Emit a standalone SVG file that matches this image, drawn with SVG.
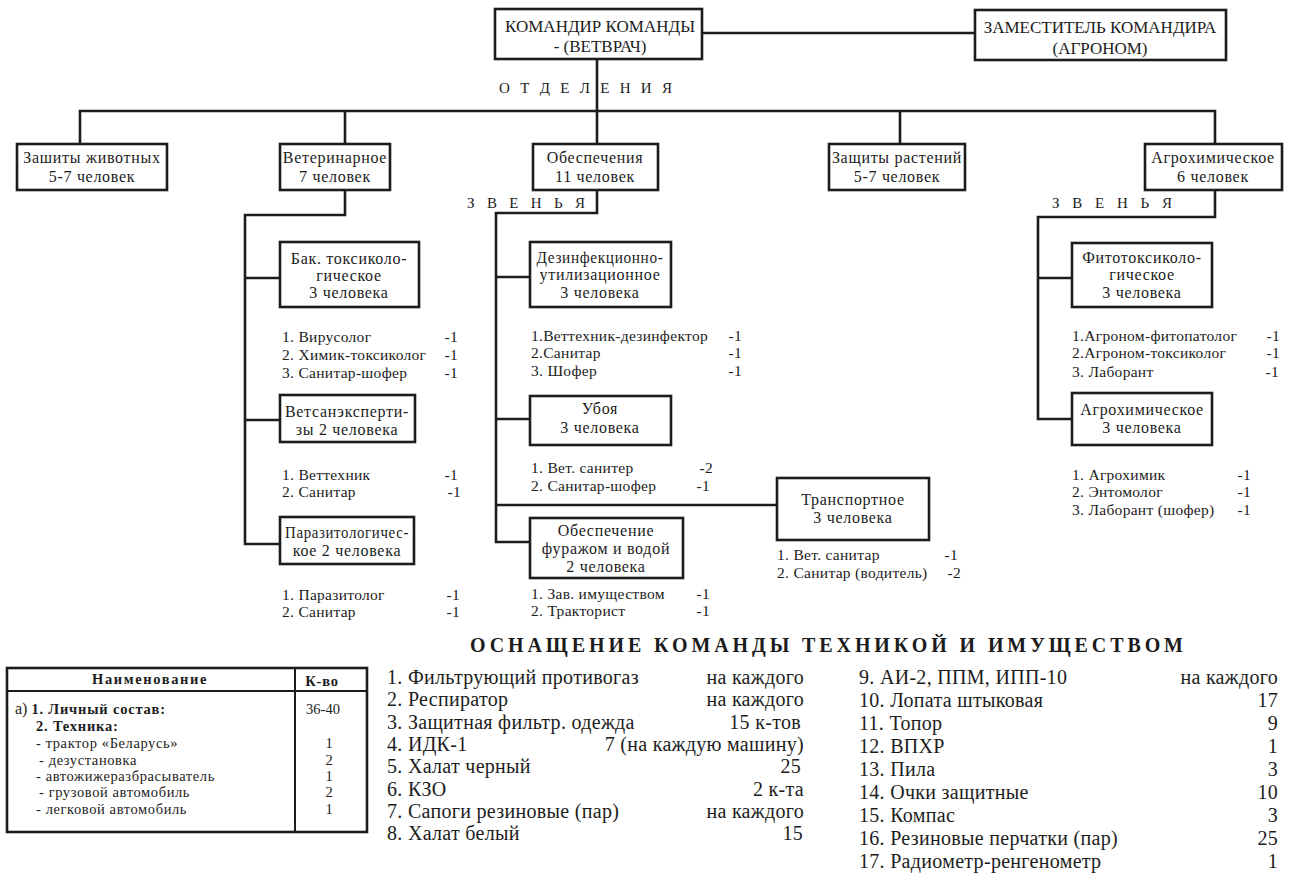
<svg xmlns="http://www.w3.org/2000/svg" width="1293" height="884" viewBox="0 0 1293 884" font-family="'Liberation Serif', serif">
<style>
.bx{fill:#fff;stroke:#1c1c1c;stroke-width:2.6}
.cn{fill:none;stroke:#1c1c1c;stroke-width:2.6}
text{font-family:'Liberation Serif','Times New Roman',serif;fill:#1c1c1c}
.h{font-size:17px;text-anchor:middle}
.n{font-size:16px;text-anchor:middle;letter-spacing:0.7px}
.li{font-size:15.5px;letter-spacing:0.3px}
.sp{font-size:15px}
.ttl{font-size:20px;font-weight:bold}
.eq{font-size:20px;letter-spacing:0.3px}
.end{text-anchor:end}
.mid{text-anchor:middle}
.tb{font-size:14.5px}
.tbb{font-size:14.5px;font-weight:bold}
</style>
<rect width="1293" height="884" fill="#fff"/>

<g id="connectors" class="cn">
<path d="M702 33H975"/>
<path d="M597 59V144"/>
<path d="M80 144V111H1215V144"/>
<path d="M345 111V144"/>
<path d="M900 111V144"/>
<path d="M345 190V215H245V544H280"/>
<path d="M245 278H280"/>
<path d="M245 420H280"/>
<path d="M597 190V213H496V542H530"/>
<path d="M496 277H530"/>
<path d="M496 419H530"/>
<path d="M496 505H777"/>
<path d="M1215 190V217H1038V419H1072"/>
<path d="M1038 278H1072"/>
</g>

<g id="n-commander">
<rect class="bx" x="495" y="9" width="207" height="50"/>
<text class="h" x="600" y="32" textLength="190" lengthAdjust="spacing">КОМАНДИР КОМАНДЫ</text>
<text class="h" x="600" y="52">- (ВЕТВРАЧ)</text>
</g>
<g id="n-deputy">
<rect class="bx" x="975" y="10" width="251" height="50"/>
<text class="h" x="1100" y="33">ЗАМЕСТИТЕЛЬ КОМАНДИРА</text>
<text class="h" x="1100" y="54">(АГРОНОМ)</text>
</g>
<text class="sp" x="499" y="93" textLength="173" lengthAdjust="spacing">О Т Д Е Л Е Н И Я</text>

<g id="n-zashity-zhivotnyh">
<rect class="bx" x="17" y="144" width="150" height="46"/>
<text class="n" x="92" y="163">Зашиты животных</text>
<text class="n" x="92" y="182">5-7 человек</text>
</g>
<g id="n-veterinarnoe">
<rect class="bx" x="280" y="144" width="110" height="46"/>
<text class="n" x="335" y="163">Ветеринарное</text>
<text class="n" x="335" y="182">7 человек</text>
</g>
<g id="n-obespecheniya">
<rect class="bx" x="533" y="144" width="125" height="46"/>
<text class="n" x="595" y="163">Обеспечения</text>
<text class="n" x="595" y="182">11 человек</text>
</g>
<g id="n-zashity-rasteniy">
<rect class="bx" x="829" y="144" width="136" height="46"/>
<text class="n" x="897" y="163">Защиты растений</text>
<text class="n" x="897" y="182">5-7 человек</text>
</g>
<g id="n-agrohim">
<rect class="bx" x="1145" y="144" width="137" height="46"/>
<text class="n" x="1213" y="163">Агрохимическое</text>
<text class="n" x="1213" y="182">6 человек</text>
</g>

<text class="sp" x="467" y="208" textLength="118" lengthAdjust="spacing">З В Е Н Ь Я</text>
<text class="sp" x="1052" y="208" textLength="120" lengthAdjust="spacing">З В Е Н Ь Я</text>

<g id="n-bak">
<rect class="bx" x="280" y="242" width="139" height="65"/>
<text class="n" x="349" y="264">Бак. токсиколо-</text>
<text class="n" x="349" y="281">гическое</text>
<text class="n" x="349" y="298">3 человека</text>
<text class="li" x="282" y="342">1. Вирусолог</text><text class="li end" x="458" y="342">-1</text>
<text class="li" x="282" y="360">2. Химик-токсиколог</text><text class="li end" x="458" y="360">-1</text>
<text class="li" x="282" y="378">3. Санитар-шофер</text><text class="li end" x="458" y="378">-1</text>
</g>
<g id="n-vetsan">
<rect class="bx" x="280" y="395" width="135" height="47"/>
<text class="n" x="347" y="417">Ветсанэксперти-</text>
<text class="n" x="347" y="435">зы 2 человека</text>
<text class="li" x="282" y="480">1. Веттехник</text><text class="li end" x="458" y="480">-1</text>
<text class="li" x="282" y="497">2. Санитар</text><text class="li end" x="461" y="497">-1</text>
</g>
<g id="n-parazit">
<rect class="bx" x="280" y="517" width="134" height="47"/>
<text class="n" x="347" y="538" textLength="124" lengthAdjust="spacingAndGlyphs">Паразитологичес-</text>
<text class="n" x="347" y="556">кое 2 человека</text>
<text class="li" x="282" y="600">1. Паразитолог</text><text class="li end" x="460" y="600">-1</text>
<text class="li" x="282" y="617">2. Санитар</text><text class="li end" x="460" y="617">-1</text>
</g>

<g id="n-dezinf">
<rect class="bx" x="530" y="242" width="141" height="65"/>
<text class="n" x="600" y="263" textLength="127" lengthAdjust="spacingAndGlyphs">Дезинфекционно-</text>
<text class="n" x="600" y="280">утилизационное</text>
<text class="n" x="600" y="298">3 человека</text>
<text class="li" x="531" y="341">1.Веттехник-дезинфектор</text><text class="li end" x="742" y="341">-1</text>
<text class="li" x="531" y="358">2.Санитар</text><text class="li end" x="742" y="358">-1</text>
<text class="li" x="531" y="376">3. Шофер</text><text class="li end" x="742" y="376">-1</text>
</g>
<g id="n-uboya">
<rect class="bx" x="530" y="396" width="141" height="49"/>
<text class="n" x="600" y="414">Убоя</text>
<text class="n" x="600" y="433">3 человека</text>
<text class="li" x="531" y="473">1. Вет. санитер</text><text class="li end" x="713" y="473">-2</text>
<text class="li" x="531" y="491">2. Санитар-шофер</text><text class="li end" x="710" y="491">-1</text>
</g>
<g id="n-transport">
<rect class="bx" x="777" y="478" width="152" height="62"/>
<text class="n" x="853" y="505">Транспортное</text>
<text class="n" x="853" y="523">3 человека</text>
<text class="li" x="777" y="560">1. Вет. санитар</text><text class="li end" x="958" y="560">-1</text>
<text class="li" x="777" y="578">2. Санитар (водитель)</text><text class="li end" x="961" y="578">-2</text>
</g>
<g id="n-furazh">
<rect class="bx" x="530" y="518" width="153" height="60"/>
<text class="n" x="606" y="536">Обеспечение</text>
<text class="n" x="606" y="554">фуражом и водой</text>
<text class="n" x="606" y="572">2 человека</text>
<text class="li" x="531" y="599">1. Зав. имуществом</text><text class="li end" x="710" y="599">-1</text>
<text class="li" x="531" y="616">2. Тракторист</text><text class="li end" x="710" y="616">-1</text>
</g>

<g id="n-fito">
<rect class="bx" x="1072" y="243" width="140" height="64"/>
<text class="n" x="1142" y="263">Фитотоксиколо-</text>
<text class="n" x="1142" y="280">гическое</text>
<text class="n" x="1142" y="298">3 человека</text>
<text class="li" x="1072" y="341">1.Агроном-фитопатолог</text><text class="li end" x="1280" y="341">-1</text>
<text class="li" x="1072" y="358">2.Агроном-токсиколог</text><text class="li end" x="1280" y="358">-1</text>
<text class="li" x="1072" y="377">3. Лаборант</text><text class="li end" x="1279" y="377">-1</text>
</g>
<g id="n-agrohim-zveno">
<rect class="bx" x="1072" y="393" width="140" height="52"/>
<text class="n" x="1142" y="415">Агрохимическое</text>
<text class="n" x="1142" y="433">3 человека</text>
<text class="li" x="1072" y="480">1. Агрохимик</text><text class="li end" x="1251" y="480">-1</text>
<text class="li" x="1072" y="497">2. Энтомолог</text><text class="li end" x="1251" y="497">-1</text>
<text class="li" x="1072" y="515">3. Лаборант (шофер)</text><text class="li end" x="1251" y="515">-1</text>
</g>

<text class="ttl" x="470" y="652" textLength="713" lengthAdjust="spacing">ОСНАЩЕНИЕ КОМАНДЫ ТЕХНИКОЙ И ИМУЩЕСТВОМ</text>

<g id="table">
<rect x="7" y="668" width="360" height="164" fill="none" stroke="#1c1c1c" stroke-width="2.6"/>
<path d="M7 691H367M295 668V832" fill="none" stroke="#1c1c1c" stroke-width="2"/>
<text class="tbb mid" x="150" y="684" letter-spacing="1.6">Наименование</text>
<text class="tbb mid" x="322" y="686" letter-spacing="0.8">К-во</text>
<text class="tb" x="15" y="714"><tspan font-size="16px">а) </tspan><tspan font-weight="bold" letter-spacing="0.8">1. Личный состав:</tspan></text>
<text class="tb mid" x="323" y="714" font-size="15px">36-40</text>
<text class="tbb" x="36" y="731" letter-spacing="0.8">2. Техника:</text>
<text class="tb" x="36" y="748" letter-spacing="0.6">- трактор «Беларусь»</text>
<text class="tb" x="39" y="765" letter-spacing="0.6">- дезустановка</text>
<text class="tb" x="36" y="781" letter-spacing="0.6">- автожижеразбрасыватель</text>
<text class="tb" x="39" y="797" letter-spacing="0.6">- грузовой автомобиль</text>
<text class="tb" x="36" y="814" letter-spacing="0.6">- легковой автомобиль</text>
<text class="tb mid" x="329" y="748">1</text>
<text class="tb mid" x="329" y="765">2</text>
<text class="tb mid" x="329" y="781">1</text>
<text class="tb mid" x="329" y="797">2</text>
<text class="tb mid" x="329" y="814">1</text>
</g>

<g id="equipment-left">
<text class="eq" x="387" y="684">1. Фильтрующий противогаз</text><text class="eq end" x="804" y="684">на каждого</text>
<text class="eq" x="387" y="706">2. Респиратор</text><text class="eq end" x="804" y="706">на каждого</text>
<text class="eq" x="387" y="729">3. Защитная фильтр. одежда</text><text class="eq end" x="801" y="729">15 к-тов</text>
<text class="eq" x="387" y="751">4. ИДК-1</text><text class="eq end" x="804" y="751">7 (на каждую машину)</text>
<text class="eq" x="387" y="773">5. Халат черный</text><text class="eq end" x="801" y="773">25</text>
<text class="eq" x="387" y="796">6. КЗО</text><text class="eq end" x="804" y="796">2 к-та</text>
<text class="eq" x="387" y="818">7. Сапоги резиновые (пар)</text><text class="eq end" x="804" y="818">на каждого</text>
<text class="eq" x="387" y="840">8. Халат белый</text><text class="eq end" x="803" y="840">15</text>
</g>
<g id="equipment-right">
<text class="eq" x="859" y="684">9. АИ-2, ППМ, ИПП-10</text><text class="eq end" x="1278" y="684">на каждого</text>
<text class="eq" x="859" y="707">10. Лопата штыковая</text><text class="eq end" x="1278" y="707">17</text>
<text class="eq" x="859" y="730">11. Топор</text><text class="eq end" x="1278" y="730">9</text>
<text class="eq" x="859" y="753">12. ВПХР</text><text class="eq end" x="1278" y="753">1</text>
<text class="eq" x="859" y="776">13. Пила</text><text class="eq end" x="1278" y="776">3</text>
<text class="eq" x="859" y="799">14. Очки защитные</text><text class="eq end" x="1278" y="799">10</text>
<text class="eq" x="859" y="822">15. Компас</text><text class="eq end" x="1278" y="822">3</text>
<text class="eq" x="859" y="845">16. Резиновые перчатки (пар)</text><text class="eq end" x="1278" y="845">25</text>
<text class="eq" x="859" y="868">17. Радиометр-ренгенометр</text><text class="eq end" x="1278" y="868">1</text>
</g>
</svg>
